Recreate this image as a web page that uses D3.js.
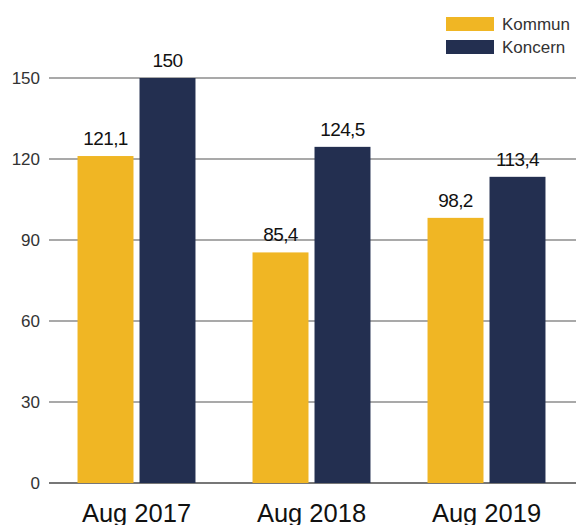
<!DOCTYPE html>
<html>
<head>
<meta charset="utf-8">
<script src="https://cdn.jsdelivr.net/npm/d3@7"></script>
<style>
  body { margin: 0; background: #fff; }
  text { font-family: "Liberation Sans", Arial, sans-serif; }
</style>
</head>
<body>
<svg id="chart" width="576" height="525"></svg>
<script>
const categories = ["Aug 2017", "Aug 2018", "Aug 2019"];
const seriesNames = ["Kommun", "Koncern"];
const kommun = [121.1, 85.4, 98.2];
const koncern = [150, 124.5, 113.4];
const yTicks = [0, 30, 60, 90, 120, 150];
const colors = ["#F0B624", "#232F50"];

const svg = d3.select("#chart");
const width = 576, height = 525;
const plotLeft = 49, plotRight = 574, plotTop = 78, plotBottom = 483;

const x0 = d3.scaleBand()
    .domain(categories)
    .range([plotLeft, plotRight])
    .paddingInner(0.326)
    .paddingOuter(0.163);
const x1 = d3.scaleBand()
    .domain(seriesNames)
    .range([0, x0.bandwidth()])
    .paddingInner(0.097);
const y = d3.scaleLinear().domain([0, 150]).range([plotBottom, plotTop]);

// grid lines
svg.append("g").selectAll("line")
    .data(yTicks)
    .join("line")
    .attr("x1", plotLeft).attr("x2", width)
    .attr("y1", d => y(d)).attr("y2", d => y(d))
    .attr("stroke", d => d === 0 ? "#4a4a4a" : "#8c8c8c")
    .attr("stroke-width", 1.5);

// y tick labels
svg.append("g").selectAll("text")
    .data(yTicks)
    .join("text")
    .attr("x", 40)
    .attr("y", d => y(d))
    .attr("dy", "0.35em")
    .attr("text-anchor", "end")
    .attr("font-size", 17)
    .attr("fill", "#333")
    .text(d => d);

const rows = categories.map((c, i) => ({
    cat: c,
    values: [
        { key: "Kommun", value: kommun[i] },
        { key: "Koncern", value: koncern[i] }
    ]
}));

const fmt = v => String(v).replace(".", ",");

const groups = svg.append("g").selectAll("g")
    .data(rows)
    .join("g")
    .attr("transform", d => "translate(" + x0(d.cat) + ",0)");

groups.selectAll("rect")
    .data(d => d.values)
    .join("rect")
    .attr("x", d => x1(d.key))
    .attr("y", d => y(d.value))
    .attr("width", x1.bandwidth())
    .attr("height", d => y(0) - y(d.value))
    .attr("fill", (d, i) => colors[i]);

groups.selectAll("text")
    .data(d => d.values)
    .join("text")
    .attr("x", d => x1(d.key) + x1.bandwidth() / 2)
    .attr("y", d => y(d.value) - 11)
    .attr("text-anchor", "middle")
    .attr("font-size", 19)
    .attr("letter-spacing", -0.6)
    .attr("fill", "#111")
    .text(d => fmt(d.value));

// x axis labels
svg.append("g").selectAll("text")
    .data(categories)
    .join("text")
    .attr("x", d => x0(d) + x0.bandwidth() / 2)
    .attr("y", 522)
    .attr("text-anchor", "middle")
    .attr("font-size", 25.5)
    .attr("fill", "#111")
    .text(d => d);

// legend
const legend = svg.append("g").selectAll("g")
    .data(seriesNames)
    .join("g")
    .attr("transform", (d, i) => "translate(446," + (17 + i * 23) + ")");
legend.append("rect")
    .attr("width", 48).attr("height", 14)
    .attr("fill", (d, i) => colors[i]);
legend.append("text")
    .attr("x", 56).attr("y", 13)
    .attr("font-size", 17)
    .attr("fill", "#333")
    .text(d => d);
</script>
</body>
</html>
